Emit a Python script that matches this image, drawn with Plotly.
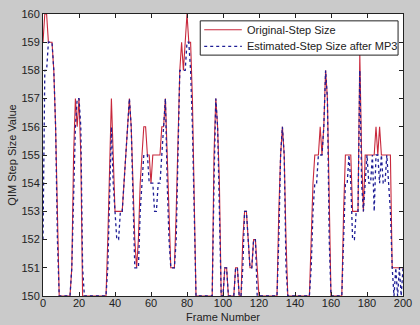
import plotly.graph_objects as go

frames = list(range(201))

original = [
    159, 160, 160, 159, 159, 159, 158, 156, 153, 150,
    150, 150, 150, 150, 150, 150, 151, 155, 157, 156,
    157, 155, 150, 150, 150, 150, 150, 150, 150, 150,
    150, 150, 150, 150, 150, 150, 152, 155, 157, 155,
    153, 153, 153, 153, 153, 154, 155, 156, 157, 156,
    154, 152, 151, 152, 154, 155, 156, 156, 155, 155,
    154, 155, 155, 155, 155, 155, 156, 156, 157, 155,
    153, 151, 151, 151, 153, 156, 158, 159, 158, 159,
    160, 159, 159, 157, 154, 150, 150, 150, 150, 150,
    150, 150, 150, 150, 150, 155, 157, 156, 154, 150,
    150, 151, 151, 150, 150, 150, 150, 151, 151, 150,
    150, 152, 153, 153, 152, 151, 151, 152, 152, 151,
    150, 150, 150, 150, 150, 150, 150, 150, 150, 150,
    150, 153, 155, 156, 155, 152, 150, 150, 150, 150,
    150, 150, 150, 150, 150, 150, 150, 150, 150, 152,
    154, 155, 155, 155, 156, 155, 156, 158, 157, 153,
    150, 150, 150, 150, 150, 150, 150, 153, 155, 155,
    155, 155, 153, 153, 153, 153, 158.6, 155, 153, 155,
    155, 155, 155, 155, 155, 156, 155, 156, 155, 155,
    155, 155, 155, 155, 151, 151, 151, 151, 151, 151,
    151,
]

estimated = [
    152, 158, 158, 159, 159, 159, 158, 156, 152, 150,
    150, 150, 150, 150, 150, 150, 151, 154, 156, 157,
    157, 156, 151, 150, 150, 150, 150, 150, 150, 150,
    150, 150, 150, 150, 150, 150, 151, 154, 156, 154,
    153, 152, 152, 153, 153, 154, 155, 156, 157, 156,
    153, 151, 151, 151, 153, 154, 155, 155, 155, 154,
    154, 154, 153, 153, 154, 154, 155, 156, 157, 154,
    152, 151, 151, 151, 152, 155, 158, 158, 158, 158,
    159, 159, 158, 156, 153, 150, 150, 150, 150, 150,
    150, 150, 150, 150, 150, 154, 157, 156, 153, 150,
    150, 151, 151, 150, 150, 150, 150, 151, 151, 150,
    150, 151, 153, 153, 152, 151, 151, 152, 152, 150,
    150, 150, 150, 150, 150, 150, 150, 150, 150, 150,
    150, 152, 155, 156, 155, 151, 150, 150, 150, 150,
    150, 150, 150, 150, 150, 150, 150, 150, 150, 151,
    153, 154, 154, 155, 155, 155, 156, 158, 157, 152,
    150, 150, 150, 150, 150, 150, 150, 152, 154, 154,
    155, 154, 152, 152, 153, 153, 158, 154, 153, 154,
    155, 154, 154, 155, 153, 155, 155, 154, 155, 154,
    154, 155, 154, 153, 151, 150, 151, 150, 151, 150,
    151,
]

x_ticks = [0, 20, 40, 60, 80, 100, 120, 140, 160, 180, 200]
y_ticks = [150, 151, 152, 153, 154, 155, 156, 157, 158, 159, 160]

names = ["Original-Step Size", "Estimated-Step Size after MP3"]
colors = ["#c8283c", "#1e1e96"]
dashes = ["solid", "dot"]
widths = [1.1, 1.3]

FONT = "Liberation Sans, Arial"
TXT = "#222222"

fig = go.Figure()
for vals, nm, c, d, w in zip([original, estimated], names, colors, dashes, widths):
    fig.add_trace(go.Scatter(
        x=frames, y=vals, mode="lines", name=nm,
        line=dict(color=c, width=w, dash=d), showlegend=False,
    ))

axis_common = dict(
    showgrid=False, zeroline=False, showline=True, linecolor=TXT,
    linewidth=1, mirror="ticks", ticks="inside", ticklen=4,
    tickcolor=TXT, tickfont=dict(family=FONT, size=11, color=TXT),
)

fig.update_layout(
    width=420, height=325,
    margin=dict(l=43, r=13, t=8, b=29),
    paper_bgcolor="#cacaca", plot_bgcolor="white",
    xaxis=dict(range=[0, 200], tickvals=x_ticks, ticklabelstandoff=-3, **axis_common),
    yaxis=dict(range=[150, 160], tickvals=y_ticks,
               title=dict(text="QIM Step Size Value", standoff=2,
                          font=dict(family=FONT, size=11, color=TXT)),
               **axis_common),
    showlegend=False,
)

# x-axis title
fig.add_annotation(text="Frame Number", xref="paper", yref="paper",
                   x=0.5, y=-0.076, xanchor="center", yanchor="middle",
                   showarrow=False, font=dict(family=FONT, size=11, color=TXT))

# legend box (MATLAB-style compact legend)
fig.add_shape(type="rect", xref="paper", yref="paper",
              x0=0.4368, x1=0.9863, y0=0.8542, y1=0.9757,
              line=dict(color=TXT, width=1), fillcolor="white", layer="above")
leg_y = [0.9444, 0.8854]
for nm, c, d, w, ly in zip(names, colors, dashes, widths, leg_y):
    fig.add_shape(type="line", xref="paper", yref="paper",
                  x0=0.4478, x1=0.5522, y0=ly, y1=ly,
                  line=dict(color=c, width=w, dash=d), layer="above")
    fig.add_annotation(text=nm, xref="paper", yref="paper",
                       x=0.5604, y=ly, xanchor="left", yanchor="middle",
                       showarrow=False, font=dict(family=FONT, size=11, color=TXT))

fig.write_html(
    "out.html",
    config={"displayModeBar": False},
    post_script="document.body.style.margin='0';document.body.style.padding='0';"
                "document.documentElement.style.overflow='hidden';",
)
